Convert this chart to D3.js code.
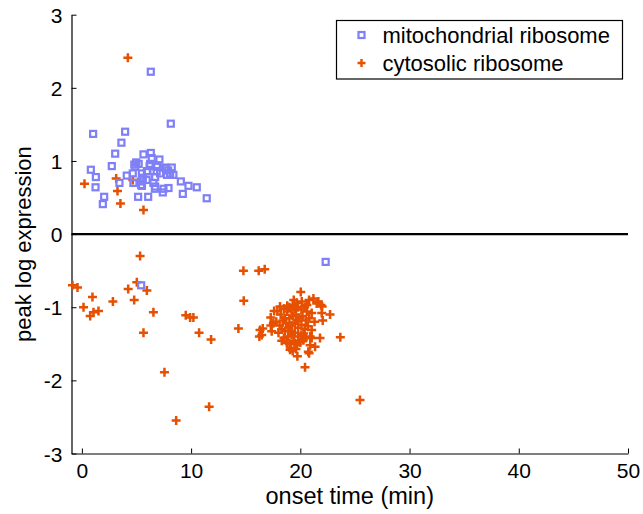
<!DOCTYPE html>
<html>
<head>
<meta charset="utf-8">
<script src="https://cdn.jsdelivr.net/npm/d3@7"></script>
<style>
  body { margin: 0; background: #fff; }
  svg text { font-family: "Liberation Sans", Arial, Helvetica, sans-serif; fill: #000; }
</style>
</head>
<body>
<div id="chart"></div>
<script>
// peak log expression vs onset time
const xTicks = [0, 10, 20, 30, 40, 50];
const yTicks = [-3, -2, -1, 0, 1, 2, 3];
const seriesNames = ["mitochondrial ribosome", "cytosolic ribosome"];

const mitoPoints = [
  [6.31,2.22],[8.14,1.51],[1.03,1.37],[3.96,1.40],[3.62,1.25],[3.05,1.10],[2.74,0.93],
  [0.82,0.88],[1.28,0.78],[1.25,0.64],[2.04,0.51],[1.92,0.41],[3.44,0.70],[4.11,0.80],
  [5.15,0.51],[6.07,0.51],[5.64,1.09],[6.31,1.11],[6.40,1.04],[7.10,1.02],[4.97,0.98],
  [5.20,0.96],[4.80,0.95],[4.90,0.92],[6.25,0.96],[6.86,0.92],[7.71,0.90],[8.23,0.91],
  [7.62,0.91],[7.90,0.87],[8.08,0.83],[8.38,0.81],[7.80,0.81],[7.16,0.83],[5.95,0.86],
  [5.49,0.83],[4.66,0.83],[5.58,0.77],[6.71,0.78],[5.93,0.74],[5.42,0.72],[4.72,0.70],
  [5.43,0.67],[6.55,0.70],[6.71,0.65],[6.68,0.62],[7.47,0.62],[7.93,0.63],[7.41,0.57],
  [9.06,0.72],[9.76,0.66],[10.52,0.64],[9.24,0.55],[11.43,0.49],[6.20,0.93],[6.85,0.86],
  [5.50,0.66],[6.00,0.86],[6.90,0.94],[5.43,-0.70],[22.32,-0.38]
];

const cytoPoints = [
  [4.21,2.41],[0.24,0.69],[3.14,0.76],[4.66,0.74],[3.26,0.59],[3.53,0.42],[5.64,0.33],
  [5.33,-0.30],[-0.86,-0.70],[-0.40,-0.73],[5.03,-0.66],[4.24,-0.75],[5.95,-0.77],
  [0.97,-0.86],[4.79,-0.90],[2.84,-0.92],[0.15,-1.00],[1.52,-1.05],[1.06,-1.07],
  [0.76,-1.12],[6.55,-1.07],[9.51,-1.11],[9.91,-1.14],[10.21,-1.14],[5.64,-1.35],
  [10.73,-1.35],[11.83,-1.44],[7.56,-1.89],[11.65,-2.36],[8.63,-2.55],[14.33,-1.29],
  [14.79,-0.50],[14.82,-0.91],[16.19,-0.50],[16.74,-0.48],[25.46,-2.27],[23.66,-1.41],
  [22.72,-1.10],
  [20.04,-0.79],[20.8,-0.90],[21.2,-0.88],[21.65,-0.92],[21.9,-0.97],[22.0,-0.99],
  [21.96,-1.08],[22.05,-1.18],[21.8,-1.42],[21.35,-1.54],[20.73,-1.61],[20.8,-1.63],
  [19.73,-1.67],[20.43,-1.82],[19.12,-1.56],[18.3,-1.46],[16.31,-1.31],[16.56,-1.29],
  [16.25,-1.40],[16.47,-1.38],[17.38,-1.33],[17.29,-1.14],[17.53,-1.22],[18.14,-0.99],
  [19.3,-0.97],[19.67,-0.94],[20.13,-0.92],[21.04,-1.08],[21.04,-1.31],[21.04,-1.42],
  [20.27,-1.45],[19.52,-1.49],[18.76,-1.49],[19.06,-1.58],
  [17.9,-1.05],[18.2,-1.10],[18.5,-1.02],[18.8,-1.06],[19.0,-1.00],[19.2,-1.04],
  [19.5,-1.02],[19.8,-1.00],[20.1,-1.03],[20.4,-1.00],[20.6,-1.06],[17.8,-1.20],
  [18.1,-1.25],[18.4,-1.18],[18.7,-1.22],[19.0,-1.15],[19.3,-1.12],[19.6,-1.10],
  [19.9,-1.15],[20.2,-1.12],[20.5,-1.18],[20.8,-1.15],[18.0,-1.35],[18.3,-1.30],
  [18.6,-1.33],[18.9,-1.28],[19.2,-1.25],[19.5,-1.22],[19.8,-1.28],[20.1,-1.24],
  [20.4,-1.30],[20.7,-1.26],[18.5,-1.42],[18.9,-1.40],[19.2,-1.38],[19.5,-1.35],
  [19.8,-1.40],[20.1,-1.38],[20.5,-1.42],[19.0,-1.50],[19.4,-1.46],[19.7,-1.52],
  [20.0,-1.48],[19.3,-1.60],[19.6,-1.57],[18.6,-1.15],[19.1,-1.32],[19.7,-1.18],
  [20.3,-1.36],[18.8,-0.98],[19.4,-0.90],[20.6,-0.97],[17.6,-1.05],[17.3,-1.25],
  [21.3,-1.20],[21.5,-0.95],[20.9,-1.40],[20.9,-1.52]
];

const width = 643, height = 514;
const mitoColor = "#7f7ff7", cytoColor = "#e65000";

const svg = d3.select("#chart").append("svg")
    .attr("width", width)
    .attr("height", height);

const x = d3.scaleLinear().domain([-0.95, 50]).range([71.5, 628]);
const y = d3.scaleLinear().domain([-3, 3]).range([453.5, 14.7]);

// axes (ticks point inward like matlab)
const xAxis = svg.append("g")
    .attr("transform", `translate(0,${y(-3)})`)
    .call(d3.axisBottom(x).tickValues(xTicks).tickFormat(d => String(d))
      .tickSizeInner(-5).tickSizeOuter(0).tickPadding(10));
const yAxis = svg.append("g")
    .attr("transform", `translate(${x(-0.95)},0)`)
    .call(d3.axisLeft(y).tickValues(yTicks).tickFormat(d => String(d))
      .tickSizeInner(-5).tickSizeOuter(0).tickPadding(9));

[xAxis, yAxis].forEach(g => {
  g.select(".domain").attr("stroke", "#000").attr("stroke-width", 1.2);
  g.selectAll(".tick line").attr("stroke", "#000").attr("stroke-width", 1);
  g.selectAll(".tick text").attr("font-size", 21).attr("font-family", null).attr("fill", "#000");
});
yAxis.selectAll(".tick text").attr("dy", "0.36em");
xAxis.selectAll(".tick text").attr("dy", "0.71em");

// zero line
svg.append("line")
    .attr("x1", x(-0.95)).attr("x2", x(50))
    .attr("y1", y(0)).attr("y2", y(0))
    .attr("stroke", "#000").attr("stroke-width", 2.4);

// cytosolic: plus markers
svg.append("g").selectAll("path")
    .data(cytoPoints)
    .enter().append("path")
    .attr("transform", d => `translate(${x(d[0])},${y(d[1])})`)
    .attr("d", "M-4.5,0H4.5M0,-4.5V4.5")
    .attr("stroke", cytoColor)
    .attr("stroke-width", 2.5)
    .attr("fill", "none");

// mitochondrial: open squares
svg.append("g").selectAll("rect")
    .data(mitoPoints)
    .enter().append("rect")
    .attr("x", d => x(d[0]) - 3)
    .attr("y", d => y(d[1]) - 3)
    .attr("width", 6)
    .attr("height", 6)
    .attr("fill", "none")
    .attr("stroke", mitoColor)
    .attr("stroke-width", 2.2);

// axis labels
svg.append("text")
    .attr("x", (x(-0.95) + x(50)) / 2)
    .attr("y", 504)
    .attr("text-anchor", "middle")
    .attr("font-size", 23.5)
    .text("onset time (min)");

svg.append("text")
    .attr("transform", `translate(31,${(y(3) + y(-3)) / 2 + 10}) rotate(-90)`)
    .attr("text-anchor", "middle")
    .attr("font-size", 22)
    .text("peak log expression");

// legend
const legend = svg.append("g");
legend.append("rect")
    .attr("x", 336.5).attr("y", 20.5)
    .attr("width", 286).attr("height", 58.5)
    .attr("fill", "#fff").attr("stroke", "#000").attr("stroke-width", 1.2);

const rows = legend.selectAll("g.row")
    .data(seriesNames)
    .enter().append("g")
    .attr("class", "row")
    .attr("transform", (d, i) => `translate(361.5,${35 + i * 28})`);

rows.filter((d, i) => i === 0).append("rect")
    .attr("x", -3).attr("y", -3).attr("width", 6).attr("height", 6)
    .attr("fill", "none").attr("stroke", mitoColor).attr("stroke-width", 2.2);
rows.filter((d, i) => i === 1).append("path")
    .attr("d", "M-4,0H4M0,-4V4")
    .attr("stroke", cytoColor).attr("stroke-width", 2.4);

rows.append("text")
    .attr("x", 21)
    .attr("y", 8)
    .attr("font-size", 22)
    .text(d => d);
</script>
</body>
</html>
